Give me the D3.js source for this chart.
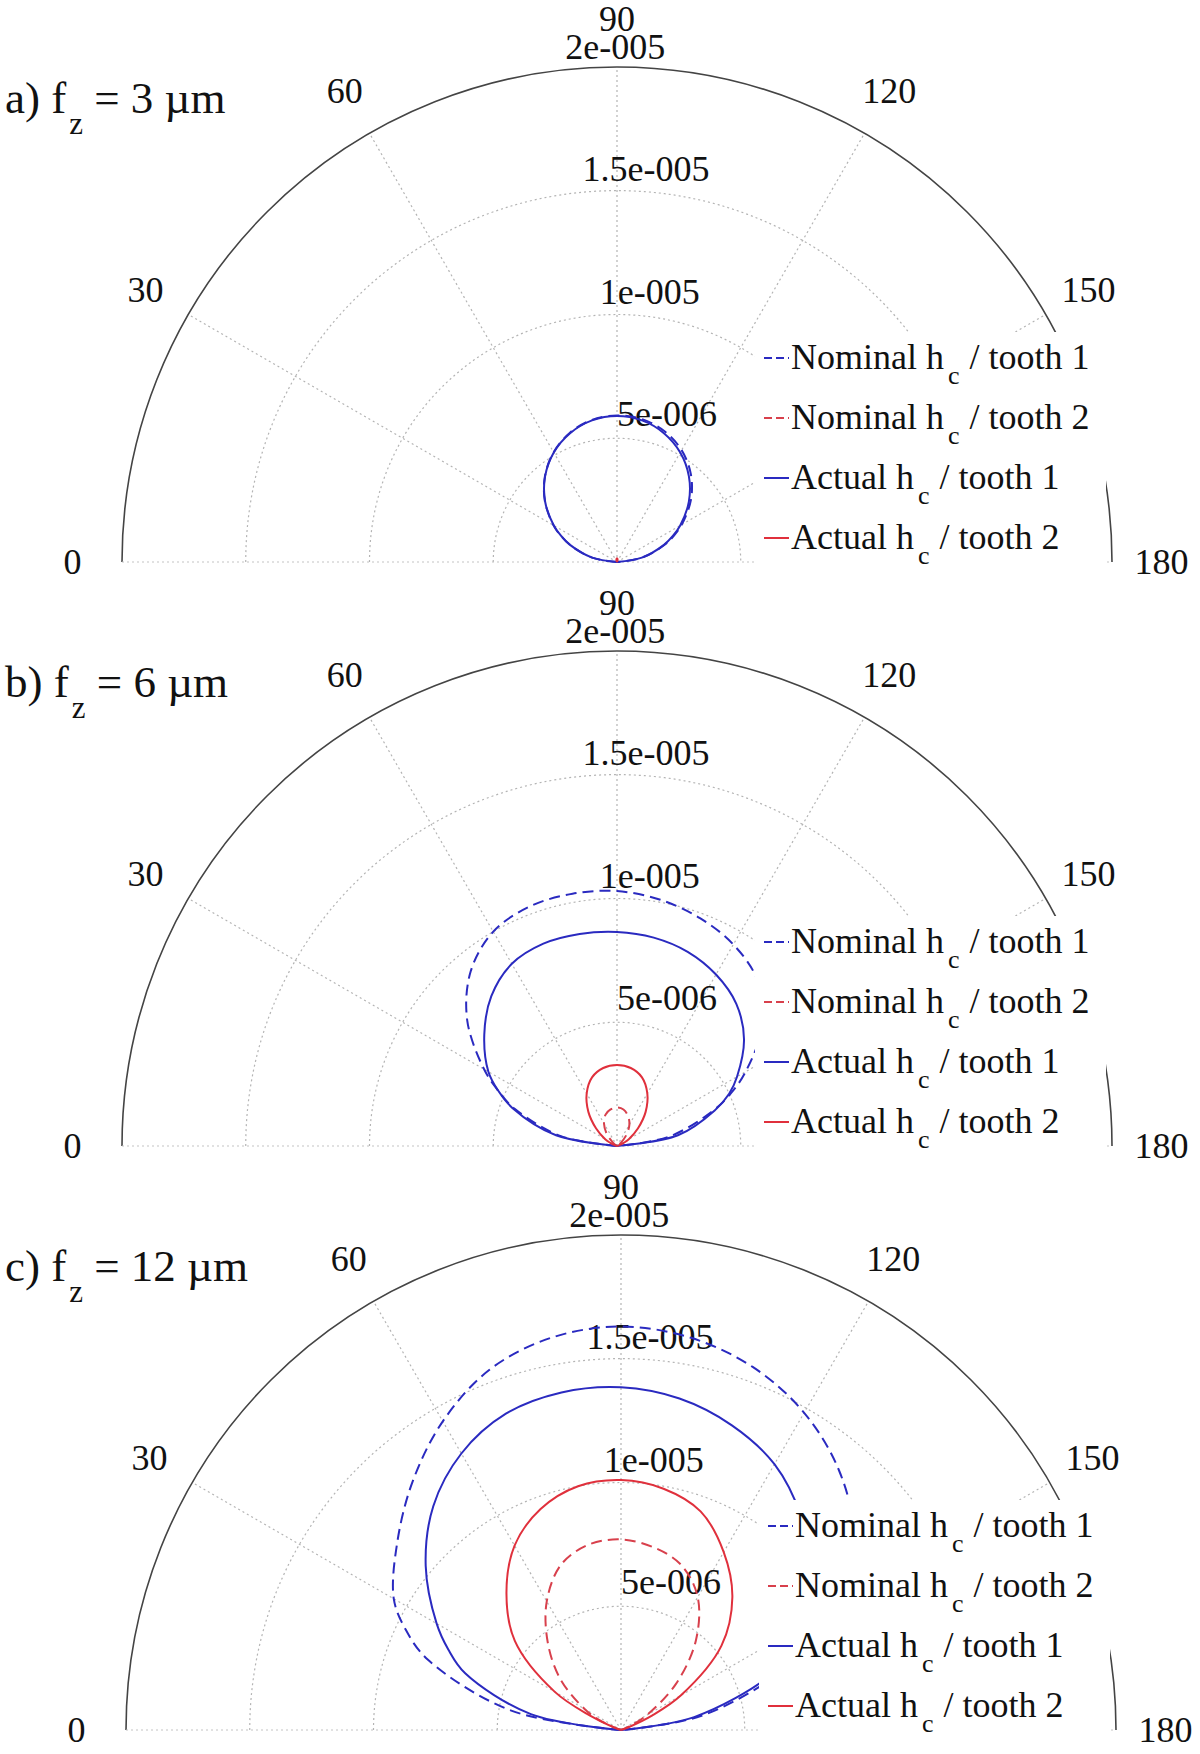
<!DOCTYPE html>
<html><head><meta charset="utf-8">
<script src="https://cdn.jsdelivr.net/npm/d3@7/dist/d3.min.js"></script>
<style>
body{margin:0;background:#fff}
svg{display:block}
text{font-family:"Liberation Serif","Times New Roman",serif;fill:#111}
</style>
</head><body>
<svg id="chart" width="1200" height="1754"></svg>
<script>
// ---------- DATA (chip thickness in micrometres vs. immersion angle in degrees) ----------
const angles = [0,10,20,25,30,40,50,60,70,80,90,100,110,120,130,140,150,155,160,170,180];

// a) fz = 3 um
const nominalT1_a = [0,1.02,2.02,2.5,2.96,3.8,4.53,5.12,5.56,5.83,5.92,5.86,5.62,5.22,4.64,3.9,3.02,2.55,2.06,1.04,0];
const nominalT2_a = [0,0,0,0,0,0,0,0,0,0,0,0,0,0,0,0,0,0,0,0,0];
const actualT1_a  = [0,1.02,2.02,2.49,2.95,3.79,4.52,5.11,5.54,5.81,5.9,5.81,5.54,5.11,4.52,3.79,2.95,2.49,2.02,1.02,0];
const actualT2_a  = [0,0,0,0,0,0,0,0,0.05,0.12,0.15,0.12,0.05,0,0,0,0,0,0,0,0];

// b) fz = 6 um
const nominalT1_b = [0,2.3,4.4,5.3,6.2,7.9,9.2,10.0,10.3,10.35,10.3,10.1,9.8,9.4,8.8,7.7,6.0,5.1,4.1,2.1,0];
const nominalT2_b = [0,0,0,0,0,0.2,0.65,1.05,1.35,1.5,1.56,1.5,1.3,1.0,0.6,0.2,0,0,0,0,0];
const actualT1_b  = [0,2.5,4.5,5.3,6.0,7.0,7.9,8.5,8.7,8.7,8.65,8.55,8.35,8.0,7.5,6.7,5.6,5.0,4.2,2.5,0];
const actualT2_b  = [0,0,0.1,0.3,0.55,1.1,1.8,2.45,2.95,3.2,3.27,3.2,2.95,2.45,1.8,1.1,0.55,0.3,0.1,0,0];

// c) fz = 12 um
const nominalT1_c = [0,4.5,8.3,9.6,10.6,11.8,13.1,14.4,15.5,16.1,16.3,16.1,15.6,14.8,13.7,12.3,10.4,9.0,7.0,3.3,0];
const nominalT2_c = [0,0,0.2,1.0,1.7,3.2,4.6,6.0,7.1,7.6,7.7,7.5,7.1,6.2,4.7,2.9,1.2,0.5,0.1,0,0];
const actualT1_c  = [0,3.7,6.7,7.7,8.6,10.3,11.8,12.9,13.6,13.85,13.85,13.6,13.1,12.4,11.3,10.0,8.6,7.6,6.4,3.0,0];
const actualT2_c  = [0,0,0.3,1.4,3.1,5.6,7.2,8.6,9.5,10.0,10.1,9.9,9.4,8.3,7.0,5.3,2.8,1.4,0.3,0,0];

const radialTicks = [5,10,15,20];
const radialTickLabels = ["5e-006","1e-005","1.5e-005","2e-005"];
const angleTicks = [0,30,60,90,120,150,180];
const angleTickLabels = ["0","30","60","90","120","150","180"];
const legendMain = ["Nominal h","Nominal h","Actual h","Actual h"];
const legendSub = ["c","c","c","c"];
const legendTail = ["/ tooth 1","/ tooth 2","/ tooth 1","/ tooth 2"];
const panelLetters = ["a)","b)","c)"];
const panelFeeds = ["3","6","12"];

// ---------- STYLE / LAYOUT ----------
const seriesStyle = [
  {color:"#2a2ac0", dash:"11,6"},
  {color:"#d8404c", dash:"11,6"},
  {color:"#2a2ac0", dash:null},
  {color:"#e0303c", dash:null}
];
const layout = [
  {cx:617, cy:562},
  {cx:617, cy:1146},
  {cx:621, cy:1730}
];
const R = 495;
const panelSeries = [
  [nominalT1_a, nominalT2_a, actualT1_a, actualT2_a],
  [nominalT1_b, nominalT2_b, actualT1_b, actualT2_b],
  [nominalT1_c, nominalT2_c, actualT1_c, actualT2_c]
];

const svg = d3.select("#chart");
const rScale = d3.scaleLinear().domain([0,20]).range([0,R]);
const aScale = d3.scaleLinear().domain([0,180]).range([-Math.PI/2, Math.PI/2]);
const pt = (deg, v) => { const a = aScale(deg), r = rScale(v); return [r*Math.sin(a), -r*Math.cos(a)]; };

const tickFont = 36, legFont = 36, titleFont = 45;

panelSeries.forEach((series, p) => {
  const L = layout[p];
  const g = svg.append("g").attr("transform", `translate(${L.cx},${L.cy})`);

  // rings
  radialTicks.forEach((v, i) => {
    const path = d3.path();
    path.arc(0, 0, rScale(v), Math.PI, 2*Math.PI);
    const outer = i === radialTicks.length - 1;
    g.append("path").attr("d", path.toString()).attr("fill","none")
      .attr("stroke", outer ? "#444" : "#b4b4b4")
      .attr("stroke-width", outer ? 1.6 : 1.2)
      .attr("stroke-dasharray", outer ? null : "2,3");
  });
  // spokes
  angleTicks.filter(a => a > 0 && a < 180).forEach(a => {
    const [x, y] = pt(a, 20);
    g.append("line").attr("x1",0).attr("y1",0).attr("x2",x).attr("y2",y)
      .attr("stroke","#b4b4b4").attr("stroke-width",1.2).attr("stroke-dasharray","2,3");
  });
  {
    const [x0,y0] = pt(0,20), [x1,y1] = pt(180,20);
    g.append("line").attr("x1",x0).attr("y1",y0).attr("x2",x1).attr("y2",y1)
      .attr("stroke","#c4c4c4").attr("stroke-width",1.2).attr("stroke-dasharray","2,3");
  }

  // radial tick labels (MATLAB style: at 82 deg, left aligned, bottom)
  radialTicks.forEach((v, i) => {
    const [x, y] = pt(82, v + 0.25);
    g.append("text").attr("x", x + 0.5*tickFont).attr("y", y - 0.2*tickFont)
      .attr("font-size", tickFont).text(radialTickLabels[i]);
  });

  // data curves
  const line = d3.lineRadial()
    .angle(d => aScale(d[0]))
    .radius(d => rScale(d[1]))
    .curve(d3.curveCatmullRom.alpha(0.5));
  series.forEach((vals, s) => {
    const data = angles.map((a, k) => [a, vals[k]]);
    g.append("path").attr("d", line(data)).attr("fill","none")
      .attr("stroke", seriesStyle[s].color).attr("stroke-width", 2)
      .attr("stroke-dasharray", seriesStyle[s].dash);
  });

  // angle labels
  angleTicks.forEach((a, i) => {
    const [x, y] = pt(a, 22);
    g.append("text").attr("x", x).attr("y", y + 0.34*tickFont + (a === 90 ? 1 : 0))
      .attr("text-anchor","middle").attr("font-size", tickFont).text(angleTickLabels[i]);
  });

  // legend
  const lg = g.append("g");
  lg.append("rect").attr("x",138).attr("y",-230).attr("width",351).attr("height",234).attr("fill","#fff");
  legendMain.forEach((m, i) => {
    const by = -193 + i*60;
    lg.append("line").attr("x1",147).attr("x2",172).attr("y1",by-11).attr("y2",by-11)
      .attr("stroke", seriesStyle[i].color).attr("stroke-width",2)
      .attr("stroke-dasharray", seriesStyle[i].dash ? "8,4" : null);
    const t = lg.append("text").attr("x",174).attr("y",by).attr("font-size",legFont);
    t.append("tspan").text(m);
    t.append("tspan").attr("dx",4).attr("dy",15).attr("font-size",26).text(legendSub[i]);
    t.append("tspan").attr("dx",10).attr("dy",-15).attr("font-size",legFont).text(legendTail[i]);
  });

  // panel title
  const tt = svg.append("text").attr("x",5).attr("y", L.cy - 449).attr("font-size", titleFont);
  tt.append("tspan").text(panelLetters[p] + "\u00a0f");
  tt.append("tspan").attr("dx",3).attr("dy",21).attr("font-size",31).text("z");
  tt.append("tspan").attr("dy",-21).attr("font-size",titleFont).text("\u00a0=\u00a0" + panelFeeds[p] + "\u00a0\u00b5m");
});
</script>
</body></html>
